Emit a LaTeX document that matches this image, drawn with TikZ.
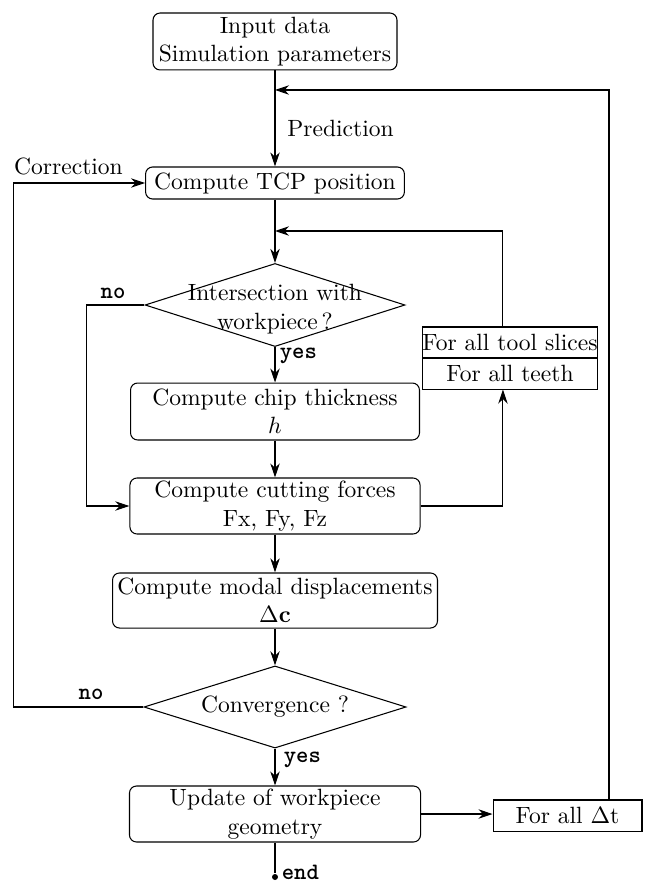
\documentclass[tikz,border=0pt]{standalone}
\usepackage{amsmath}
\usepackage{tikz}
\usetikzlibrary{shapes.geometric,arrows.meta}

\tikzset{
  block/.style={draw, rounded corners=3pt, align=center, inner xsep=1.5pt, inner ysep=1pt},
  loopbox/.style={draw, align=center, inner xsep=0pt, inner ysep=1pt, minimum height=13.2pt},
  decision/.style={draw, diamond, inner sep=0pt},
  flow/.style={-{Stealth[length=6pt,width=4pt]}},
  answer/.style={font=\ttfamily\bfseries, inner sep=1pt},
}

\begin{document}
\begin{tikzpicture}[x=0.425pt, y=-0.425pt, line width=0.45pt]
    \useasboundingbox (0,0) rectangle (644,885);
    % main column
    \node [block, minimum width=103.7pt, minimum height=24.2pt] (input) at (275,41.5) {Input data\\Simulation parameters};
    \node [block, minimum width=110pt, minimum height=13.6pt] (tcp) at (275,183) {Compute TCP position};
    \node [decision, minimum width=110.5pt, minimum height=35.3pt] (inter) at (275,305) {};
    \node [align=center, inner sep=0pt] (intertext) at (275,309) {Intersection with\\workpiece\,?};
    \node [block, minimum width=122.8pt, minimum height=24.2pt] (chip) at (275,411.5) {Compute chip thickness\\$h$};
    \node [block, minimum width=123.3pt, minimum height=23.8pt] (cut) at (275,506) {Compute cutting forces\\Fx, Fy, Fz};
    \node [block, minimum width=138.1pt, minimum height=23.4pt] (modal) at (275,600.5) {Compute modal displacements\\$\Delta\mathbf{c}$};
    \node [decision, minimum width=111.4pt, minimum height=34.9pt] (conv) at (275,707) {};
    \node (convtext) at (conv) {Convergence ?};
    \node [block, minimum width=123.7pt, minimum height=23.8pt] (update) at (275,814) {Update of workpiece\\geometry};
    \node [circle, fill, inner sep=0.9pt] (stop) at (275,877) {};
    \node [answer, anchor=base west] (endlabel) at (279,879) {end};
    % loop boxes
    \node [loopbox, minimum width=74pt] (slices) at (510,342.5) {For all tool slices};
    \node [loopbox, minimum width=74pt] (teeth) at (510,373.5) {For all teeth};
    \node [loopbox, minimum width=63.3pt] (dt) at (567.5,815.5) {For all $\Delta$t};
    % labels
    \node [anchor=west] (predlabel) at (279,128) {Prediction};
    \node (corrlabel) at (68.5,166) {Correction};
    \node [answer] (no1) at (113,293) {no};
    \node [answer] (no2) at (91,694) {no};
    \node [answer, anchor=west] (yes1) at (277,356) {yes};
    \node [answer, anchor=west] (yes2) at (281,760) {yes};
    \coordinate (pred) at (275,90);
    \coordinate (loop) at (275,231);
    \coordinate (dtup) at (609,800);
    % connectors
    \draw [flow] (input) -- (tcp);
    \draw [flow] (tcp) -- (inter);
    \draw [flow] (inter) -- (chip);
    \draw [flow] (inter.west) -- ++(-58,0) |- (cut.west);
    \draw [flow] (chip) -- (cut);
    \draw [flow] (cut.east) -| ([xshift=-3pt]teeth.south);
    \draw [flow] ([xshift=-3pt]slices.north) |- (loop);
    \draw [flow] (cut) -- (modal);
    \draw [flow] (modal) -- (conv);
    \draw [flow] (conv.west) -- ++(-130,0) |- (tcp.west);
    \draw [flow] (conv) -- (update);
    \draw [flow] (update.east) -- (update.east -| dt.west);
    \draw [flow] (dtup) |- (pred);
    \draw (update) -- (stop);
\end{tikzpicture}
\end{document}
